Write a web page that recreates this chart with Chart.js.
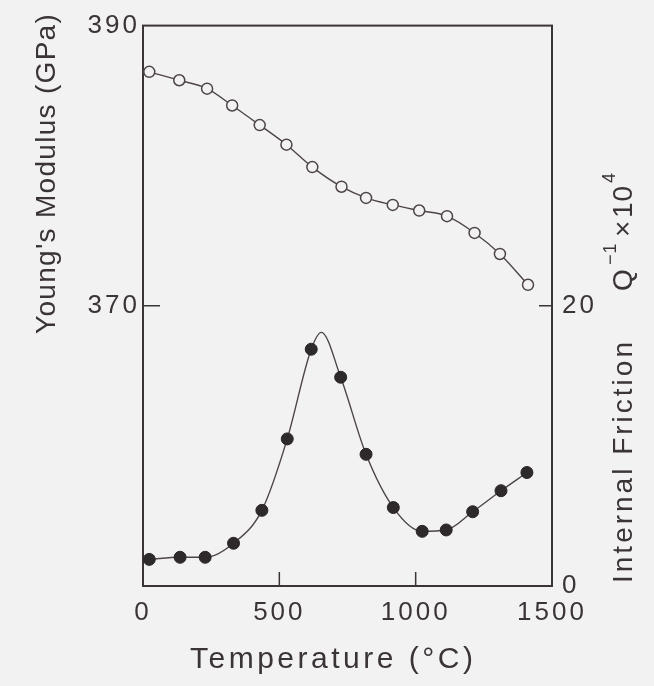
<!DOCTYPE html>
<html><head><meta charset="utf-8">
<script src="https://cdn.jsdelivr.net/npm/chart.js@4.4.1/dist/chart.umd.min.js"></script>
<style>
html,body{margin:0;padding:0;background:#f3f2f2;}
#wrap{width:654px;height:686px;position:relative;}
canvas{display:block;}
</style></head>
<body><div id="wrap"><canvas id="c" width="654" height="686"></canvas></div>
<script>
// ---- data ----
const tempModulus = [23,133,235,327,428,526,621,728,818,916,1013,1115,1216,1309,1412];
const youngsModulus = [386.7,386.1,385.5,384.3,382.9,381.5,379.9,378.5,377.7,377.2,376.8,376.4,375.2,373.7,371.5];
const tempFriction = [23,136,228,332,436,529,617,725,818,918,1024,1112,1209,1313,1408];
const internalFriction = [1.9,2.05,2.05,3.05,5.4,10.5,16.9,14.9,9.4,5.6,3.9,4.0,5.3,6.8,8.1];
// hand-drawn fit curve through the friction data (peak)
const curveTemp = [23,136,228,332,436,529,617,654,725,818,918,1024,1112,1209,1313,1408];
const curveFriction = [1.9,2.05,2.05,3.05,5.4,10.5,16.9,18.1,14.9,9.4,5.6,3.9,4.0,5.3,6.8,8.1];
// tick labels
const xTicks = [0,500,1000,1500];
const leftTicks = [370,390];
const rightTicks = [0,20];
// titles
const xTitle = 'Temperature (°C)';
const leftTitle = "Young's Modulus (GPa)";
const rightTitle = 'Internal Friction';
const rightTitleQ = 'Q';
const rightTitleSup1 = '−1';
const rightTitleX = '×';
const rightTitleTen = '10';
const rightTitleSup2 = '4';

const FAMILY = '"Liberation Sans", Arial, Helvetica, sans-serif';
const INK = '#3a3436';
const LINE = '#4d4547';
const BG = '#f3f2f2';

const pts = (xs, ys) => xs.map((x, i) => ({x, y: ys[i]}));

const spacing = {
  id: 'spacing',
  beforeLayout(chart){ chart.ctx.letterSpacing = '3px'; },
  beforeDraw(chart){
    const c = chart.ctx;
    c.save(); c.fillStyle = BG; c.fillRect(0,0,chart.width,chart.height); c.restore();
    c.letterSpacing = '3px';
  }
};

const frame = {
  id: 'frame',
  beforeDatasetsDraw(chart){
    const {ctx, chartArea: a, scales} = chart;
    ctx.save();
    ctx.strokeStyle = INK; ctx.lineWidth = 2;
    ctx.strokeRect(a.left, a.top, a.right - a.left, a.bottom - a.top);
    ctx.lineWidth = 1.5;
    ctx.beginPath();
    xTicks.forEach(v => { if (v > 0 && v < 1500) { const px = scales.x.getPixelForValue(v); ctx.moveTo(px, a.bottom); ctx.lineTo(px, a.bottom - 14);} });
    leftTicks.forEach(v => { if (v > 350 && v < 390) { const py = scales.y.getPixelForValue(v); ctx.moveTo(a.left, py); ctx.lineTo(a.left + 17, py);} });
    rightTicks.forEach(v => { if (v > 0 && v < 40) { const py = scales.y2.getPixelForValue(v); ctx.moveTo(a.right, py); ctx.lineTo(a.right - 13, py);} });
    ctx.stroke();
    ctx.restore();
  }
};

const titles = {
  id: 'titles',
  afterDraw(chart){
    const ctx = chart.ctx;
    ctx.save();
    ctx.fillStyle = INK;
    ctx.textAlign = 'left'; ctx.textBaseline = 'alphabetic';
    // x title
    ctx.font = '30px ' + FAMILY; ctx.letterSpacing = '3.5px';
    ctx.fillText(xTitle, 190, 668);
    // left title
    ctx.save();
    ctx.translate(55, 334); ctx.rotate(-Math.PI/2);
    ctx.font = '28px ' + FAMILY; ctx.letterSpacing = '1.3px';
    ctx.fillText(leftTitle, 0, 0);
    ctx.restore();
    // right title
    ctx.save();
    ctx.translate(632, 583); ctx.rotate(-Math.PI/2);
    ctx.font = '28px ' + FAMILY; ctx.letterSpacing = '3px';
    ctx.fillText(rightTitle, 0, 0);
    ctx.fillText(rightTitleQ, 292, 0);
    ctx.letterSpacing = '1px';
    ctx.fillText(rightTitleX, 346, 0);
    ctx.fillText(rightTitleTen, 365, 0);
    ctx.font = '18px ' + FAMILY; ctx.letterSpacing = '1px';
    ctx.fillText(rightTitleSup1, 318, -16);
    ctx.fillText(rightTitleSup2, 400, -17);
    ctx.restore();
    ctx.restore();
  }
};

const tickFont = {family: FAMILY, size: 26};

new Chart(document.getElementById('c'), {
  type: 'scatter',
  data: {
    datasets: [
      {
        label: "Young's Modulus",
        data: pts(tempModulus, youngsModulus),
        yAxisID: 'y', showLine: true, cubicInterpolationMode: 'monotone',
        borderColor: LINE, borderWidth: 1.4,
        pointRadius: 5.5, pointBorderWidth: 1.5, pointBorderColor: LINE, pointBackgroundColor: BG,
        order: 0
      },
      {
        label: 'Internal Friction',
        data: pts(tempFriction, internalFriction),
        yAxisID: 'y2', showLine: false,
        pointRadius: 6, pointBorderWidth: 1, pointBorderColor: '#2b2728', pointBackgroundColor: '#2e2a2b',
        order: 0
      },
      {
        label: 'Internal Friction fit',
        data: pts(curveTemp, curveFriction),
        yAxisID: 'y2', showLine: true, cubicInterpolationMode: 'monotone',
        borderColor: LINE, borderWidth: 1.4, pointRadius: 0,
        order: 1
      }
    ]
  },
  options: {
    responsive: false, animation: false, devicePixelRatio: 1,
    layout: {padding: {top: 24, left: 0, right: 0, bottom: 0}},
    plugins: {legend: {display: false}, tooltip: {enabled: false}},
    scales: {
      x: {
        type: 'linear', min: 0, max: 1500,
        grid: {display: false, drawTicks: false}, border: {display: false},
        afterBuildTicks: s => { s.ticks = xTicks.map(v => ({value: v})); },
        afterFit: s => { s.height = 100; },
        ticks: {font: tickFont, color: INK, padding: 11, maxRotation: 0, autoSkip: false, callback: v => String(v)}
      },
      y: {
        position: 'left', min: 350, max: 390,
        grid: {display: false, drawTicks: false}, border: {display: false},
        afterBuildTicks: s => { s.ticks = leftTicks.map(v => ({value: v})); },
        afterFit: s => { s.width = 143; },
        ticks: {font: tickFont, color: INK, padding: 3, callback: v => String(v)}
      },
      y2: {
        position: 'right', min: 0, max: 40,
        grid: {display: false, drawTicks: false}, border: {display: false},
        afterBuildTicks: s => { s.ticks = rightTicks.map(v => ({value: v})); },
        afterFit: s => { s.width = 102; },
        ticks: {font: tickFont, color: INK, padding: 10, callback: v => String(v)}
      }
    }
  },
  plugins: [spacing, frame, titles]
});
</script>
</body></html>
